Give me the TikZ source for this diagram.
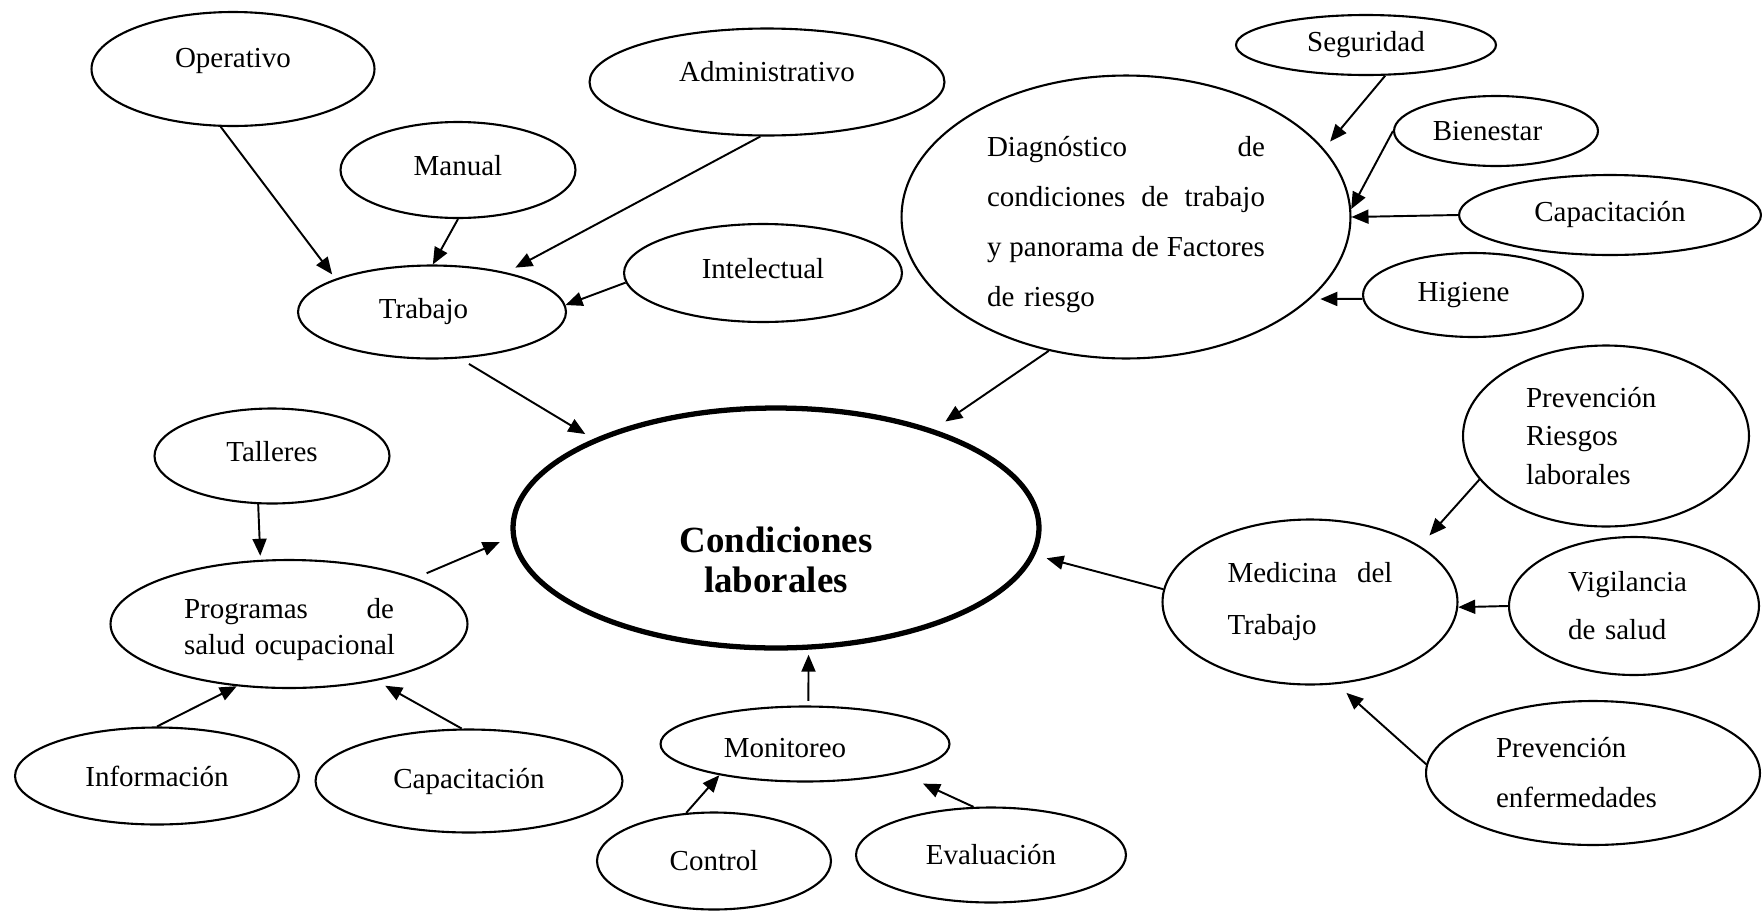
\documentclass[tikz,border=0pt]{standalone}
\usepackage{fontspec}
\setmainfont{Liberation Serif}
\usetikzlibrary{shapes.geometric, arrows.meta}
\setlength{\parindent}{0pt}

\begin{document}
\begin{tikzpicture}[
    x=0.02cm, y=-0.02cm,
    font=\fontsize{16.5}{20}\selectfont,
    bubble/.style={draw, ellipse, line width=1.2pt, inner sep=0pt},
    link/.style={-{Triangle[length=0.34cm, width=0.28cm]}, line width=1.1pt}
]
\useasboundingbox (0,0) rectangle (1762,910);

\node[bubble, minimum width=5.66cm, minimum height=2.28cm,
      label={[yshift=0.17cm]center:Operativo}] (operativo) at (233,69) {};
\node[bubble, minimum width=7.1cm, minimum height=2.14cm,
      label={[yshift=0.2cm]center:Administrativo}] (administrativo) at (767,82) {};
\node[bubble, minimum width=4.7cm, minimum height=1.92cm,
      label={[yshift=0.09cm]center:Manual}] (manual) at (458,170) {};
\node[bubble, minimum width=5.36cm, minimum height=1.86cm,
      label={[xshift=-0.17cm]center:Trabajo}] (trabajo) at (432,312) {};
\node[bubble, minimum width=5.56cm, minimum height=1.96cm,
      label={[yshift=0.09cm]center:Intelectual}] (intelectual) at (763,273) {};

\node[bubble, minimum width=8.98cm, minimum height=5.66cm,
      label={[yshift=-0.16cm, text width=5.56cm, align=left, font=\fontsize{16.5}{28.45}\selectfont]center:%
      Diagnóstico\hfill de\\condiciones\hfill de\hfill trabajo\\y\hfill panorama\hfill de\hfill Factores\\de riesgo}]
      (diagnostico) at (1126,217) {};
\node[bubble, minimum width=5.2cm, minimum height=1.2cm] (seguridad) at (1366,45) {Seguridad};
\node[bubble, minimum width=4.08cm, minimum height=1.4cm,
      label={[xshift=-0.17cm]center:Bienestar}] (bienestar) at (1496,131) {};
\node[bubble, minimum width=6.04cm, minimum height=1.6cm] (capacitacionR) at (1610,215) {Capacitación};
\node[bubble, minimum width=4.4cm, minimum height=1.68cm,
      label={[xshift=-0.19cm]center:Higiene}] (higiene) at (1473,295) {};

\node[bubble, line width=3pt, minimum width=10.52cm, minimum height=4.8cm,
      label={[yshift=-0.64cm, align=center, font=\bfseries\fontsize{21}{22.8}\selectfont]center:Condiciones\\laborales}]
      (condiciones) at (776,528) {};

\node[bubble, minimum width=4.7cm, minimum height=1.9cm,
      label={[yshift=0.09cm]center:Talleres}] (talleres) at (272,456) {};
\node[bubble, minimum width=7.14cm, minimum height=2.56cm,
      label={[yshift=-0.11cm, text width=4.2cm, align=left, font=\fontsize{16.5}{21}\selectfont]center:%
      Programas\hfill de\\\mbox{salud ocupacional}}] (programas) at (289,624) {};
\node[bubble, minimum width=5.68cm, minimum height=1.94cm] (informacion) at (157,776) {Información};
\node[bubble, minimum width=6.14cm, minimum height=2.06cm] (capacitacionL) at (469,781) {Capacitación};

\node[bubble, minimum width=5.78cm, minimum height=1.5cm,
      label={[xshift=-0.4cm, yshift=-0.08cm]center:Monitoreo}] (monitoreo) at (805,744) {};
\node[bubble, minimum width=4.68cm, minimum height=1.94cm] (control) at (714,861) {Control};
\node[bubble, minimum width=5.4cm, minimum height=1.9cm] (evaluacion) at (991,855) {Evaluación};

\node[bubble, minimum width=5.72cm, minimum height=3.62cm, text width=3.2cm, align=left,
      font=\fontsize{16.5}{21.9}\selectfont] (prevriesgos) at (1606,436) {Prevención\\Riesgos\\laborales};
\node[bubble, minimum width=5.9cm, minimum height=3.3cm, text width=3.3cm, align=left,
      font=\fontsize{16.5}{29.6}\selectfont] (medicina) at (1310,602) {Medicina\hfill del\\Trabajo};
\node[bubble, minimum width=5cm, minimum height=2.76cm, text width=2.64cm, align=left,
      font=\fontsize{16.5}{27.3}\selectfont] (vigilancia) at (1634,606) {Vigilancia\\de salud};
\node[bubble, minimum width=6.68cm, minimum height=2.88cm, text width=3.88cm, align=left,
      font=\fontsize{16.5}{28.45}\selectfont] (prevenf) at (1593,773) {Prevención\\enfermedades};

\draw[link, shorten >=0.11cm] (operativo.-102) -- (trabajo.161);
\draw[link] (manual.south) -- (trabajo.89);
\draw[link, shorten >=0.2cm] (administrativo.-97) -- (trabajo.28);
\draw[link] (intelectual.184) -- (trabajo.3);
\draw[link, shorten <=0.21cm, shorten >=0.19cm] (trabajo.-59) -- (condiciones.154);

\draw[link, shorten >=0.28cm] (diagnostico.-120) -- (condiciones.32);
\draw[link, shorten >=0.19cm] (seguridad.-58) -- (diagnostico.19);
\draw[link] (bienestar.west) -- (diagnostico.2);
\draw[link] (capacitacionR.west) -- (diagnostico.east);
\draw[link, shorten >=0.2cm] (higiene.182) -- (diagnostico.-24);

\draw[link, shorten >=0.08cm] (talleres.-106) -- (programas.114);
\draw[link, shorten <=0.24cm, shorten >=0.25cm] (programas.20) -- (condiciones.182);
\draw[link] (informacion.north) -- (programas.-130);
\draw[link, shorten >=0.2cm] (capacitacionL.98) -- (programas.-33);

\draw[link, shorten <=0.09cm, shorten >=0.1cm] (monitoreo.85) -- (condiciones.-75);
\draw[link] (control.120) -- (monitoreo.200);
\draw[link, shorten >=0.5cm] (evaluacion.110) -- (monitoreo.-17);

\draw[link, shorten >=0.24cm] (medicina.175) -- (condiciones.-6.5);
\draw[link, shorten >=0.28cm] (prevriesgos.199) -- (medicina.27);
\draw[link] (vigilancia.west) -- (medicina.-2);
\draw[link, shorten >=0.26cm] (prevenf.177) -- (medicina.-72);

\end{tikzpicture}
\end{document}
